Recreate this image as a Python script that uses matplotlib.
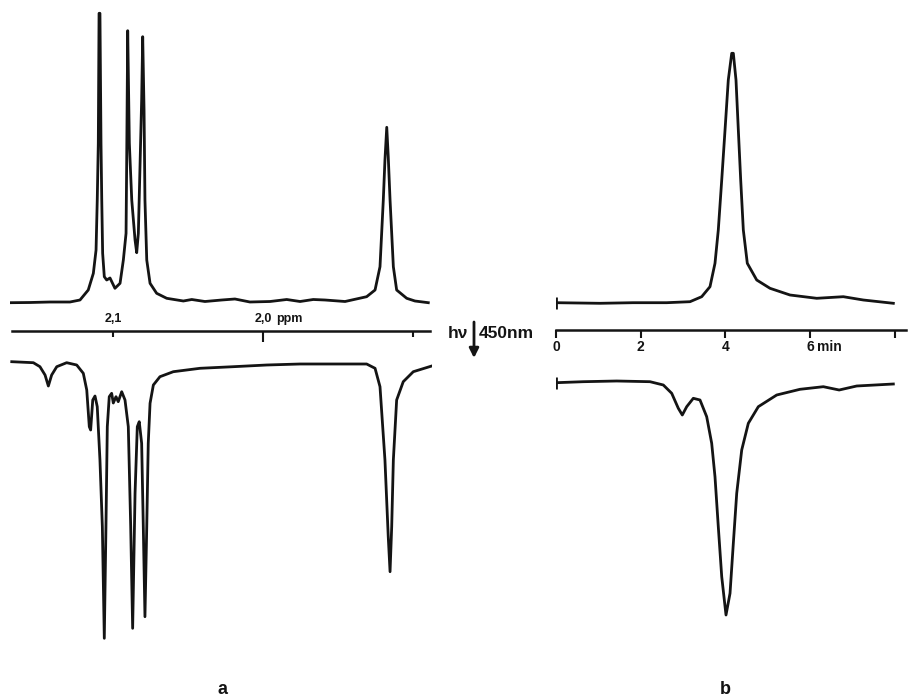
import matplotlib
matplotlib.use("Agg")
import matplotlib.pyplot as plt
from matplotlib.transforms import offset_copy

plt.rcParams['font.family'] = ['Liberation Sans', 'DejaVu Sans']

W, H = 908, 698
INK = '#141414'

# panel a: 1H NMR, chemical shift (ppm) vs. signal (a.u.), before and after irradiation
ppm_before = [2.1687, 2.1553, 2.1420, 2.1287, 2.1220, 2.1165, 2.1131, 2.1113, 2.1105, 2.1098,
              2.1093, 2.1087, 2.1080, 2.1075, 2.1069, 2.1058, 2.1042, 2.1020, 2.0987, 2.0953,
              2.0931, 2.0913, 2.0909, 2.0902, 2.0891, 2.0875, 2.0853, 2.0842, 2.0831, 2.0820,
              2.0809, 2.0802, 2.0793, 2.0787, 2.0775, 2.0753, 2.0709, 2.0642, 2.0531, 2.0475,
              2.0387, 2.0275, 2.0187, 2.0087, 1.9953, 1.9842, 1.9753, 1.9665, 1.9587, 1.9453,
              1.9309, 1.9253, 1.9220, 1.9198, 1.9187, 1.9175, 1.9165, 1.9153, 1.9131, 1.9109,
              1.9042, 1.8987, 1.8898]
sig_before = [-0.7, -0.5, 0, 0, 2, 12, 28.7, 52, 102, 158.7,
              288.7, 288.7, 158.7, 102, 48.7, 25.3, 22, 24, 13.7, 18.7,
              42, 68.7, 135.3, 271.3, 158.7, 102, 62, 49.3, 68.7, 135.3,
              202, 265.3, 192, 102, 42, 18.7, 8.7, 3.7, 1, 2.5,
              0.5, 2, 3, 0, 0.5, 2.5, 0.5, 2.5, 2, 0.5,
              5.3, 12, 35.3, 102, 142, 174.7, 145.3, 102, 35.3, 12,
              3.7, 1, -0.7]

ppm_after = [2.1675, 2.1531, 2.1487, 2.1453, 2.1431, 2.1409, 2.1375, 2.1309, 2.1242, 2.1198,
             2.1175, 2.1158, 2.1149, 2.1135, 2.1120, 2.1105, 2.1087, 2.1071, 2.1058, 2.1047,
             2.1038, 2.1025, 2.1009, 2.0998, 2.0980, 2.0965, 2.0942, 2.0920, 2.0898, 2.0882,
             2.0869, 2.0853, 2.0838, 2.0825, 2.0809, 2.0798, 2.0787, 2.0775, 2.0765, 2.0753,
             2.0731, 2.0687, 2.0598, 2.0420, 2.0198, 1.9975, 1.9753, 1.9531, 1.9309, 1.9253,
             1.9220, 1.9187, 1.9165, 1.9153, 1.9142, 1.9131, 1.9109, 1.9065, 1.8998, 1.8875]
sig_after = [2.3, 1.3, -2.7, -11, -22, -11, -2.7, 1.3, -1, -9.3,
             -26, -62.7, -66, -36, -32, -42.7, -96, -162.7, -274.3, -162.7,
             -62.7, -32.7, -29.3, -39, -32.7, -37.7, -27.7, -36, -62.7, -162.7,
             -264.3, -129.3, -62.7, -57.7, -79.3, -162.7, -252.7, -162.7, -79.3, -39.3,
             -21, -12.7, -7.7, -4.3, -2.7, -1, 0, 0, 0, -4.3,
             -22.7, -96, -172.7, -207.7, -162.7, -96, -36, -17.7, -7.7, -2]

ppm_ticks = [2.1, 2.0, 1.9]
ppm_labels = ['2,1', '2,0', '']

# panel b: signal vs. time (min)
t_before = [0.0, 1.039, 1.825, 2.614, 3.164, 3.440, 3.636, 3.754, 3.832, 3.913,
            3.991, 4.068, 4.149, 4.187, 4.250, 4.305, 4.361, 4.423, 4.517, 4.739,
            5.053, 5.525, 6.156, 6.784, 7.256, 7.965]
b_before = [0.3, -0.3, 0.3, 0.3, 1.3, 6.3, 16.3, 39.7, 73, 123,
            173, 223, 249.7, 249.7, 223, 173, 123, 73, 39.7, 23,
            14.7, 8, 4.7, 6.3, 3, -0.3]

t_after = [0.0, 0.645, 1.433, 2.220, 2.534, 2.732, 2.888, 2.982, 3.086, 3.242,
           3.400, 3.558, 3.676, 3.754, 3.832, 3.913, 4.014, 4.109, 4.187, 4.267,
           4.385, 4.541, 4.777, 5.211, 5.761, 6.312, 6.686, 7.100, 7.965]
b_after = [-0.7, 0.3, 1, 0.3, -3, -11.3, -26.3, -33, -24.7, -16.3,
           -18, -34.7, -61.3, -94.7, -144.7, -194.7, -233, -211.3, -161.3, -111.3,
           -68, -41.3, -24.7, -13, -7.3, -4.7, -8, -4, -2]

min_ticks = [0, 2, 4, 6, 8]
min_labels = ['0', '2', '4', '6', '']


def axes_px(fig, left, top, right, bottom):
    return fig.add_axes([left / W, 1 - bottom / H, (right - left) / W, (bottom - top) / H])


def trace(ax, x, y, xlim, ylim, start_bar=False):
    ax.plot(x, y, color=INK, lw=2.0, solid_joinstyle='round')
    if start_bar:
        ax.plot(x[:1], y[:1], marker='|', ms=9, mew=2, color=INK)
    ax.set_xlim(*xlim)
    ax.set_ylim(*ylim)
    ax.set_axis_off()


fig = plt.figure(figsize=(W / 100, H / 100), dpi=100)

# ---- panel a ----
lx = (2.168667, 1.887333)
trace(axes_px(fig, 10, 5, 432, 310), ppm_before, sig_before, lx, (-8, 297))
trace(axes_px(fig, 10, 355, 432, 645), ppm_after, sig_after, lx, (-281, 9))

sa = axes_px(fig, 12, 331, 430, 345)
sa.set_xlim(2.167333, 1.888667)
sa.patch.set_visible(False)
for s in ['left', 'right', 'bottom']:
    sa.spines[s].set_visible(False)
sa.spines['top'].set_linewidth(1.8)
sa.spines['top'].set_color(INK)
sa.set_yticks([])
sa.xaxis.tick_top()
sa.set_xticks([ppm_ticks[1]])
sa.set_xticklabels([ppm_labels[1]])
sa.set_xticks([ppm_ticks[0], ppm_ticks[2]], minor=True)
sa.set_xticklabels([ppm_labels[0], ppm_labels[2]], minor=True)
sa.tick_params(axis='x', which='both', direction='in', width=1.5, color=INK,
               labelsize=9, pad=4, labelcolor=INK)
sa.tick_params(axis='x', which='major', length=8)
sa.tick_params(axis='x', which='minor', length=4.5)
for lab in sa.get_xticklabels(which='both'):
    lab.set_fontweight('bold')
# unit next to the 2,0 label
sa.text(1.9915, 1.0, 'ppm', ha='left', va='bottom', fontsize=9, fontweight='bold', color=INK,
        transform=offset_copy(sa.get_xaxis_transform(), fig=fig, y=4, units='points'))

# ---- panel b ----
rx = (0, 8.264)
trace(axes_px(fig, 556, 40, 906, 310), t_before, b_before, rx, (-7, 263), start_bar=True)
trace(axes_px(fig, 556, 370, 906, 625), t_after, b_after, rx, (-243, 12), start_bar=True)

sb = axes_px(fig, 556, 316, 906, 330)
sb.set_xlim(*rx)
sb.patch.set_visible(False)
for s in ['left', 'right', 'top']:
    sb.spines[s].set_visible(False)
sb.spines['bottom'].set_linewidth(1.8)
sb.spines['bottom'].set_color(INK)
sb.set_yticks([])
sb.set_xticks(min_ticks)
sb.set_xticklabels(min_labels)
sb.tick_params(axis='x', direction='out', length=5.5, width=1.5, color=INK,
               labelsize=10, pad=2, labelcolor=INK)
for lab in sb.get_xticklabels():
    lab.set_fontweight('bold')
sb.text(6.17, 0.0, 'min', ha='left', va='top', fontsize=10, fontweight='bold', color=INK,
        transform=offset_copy(sb.get_xaxis_transform(), fig=fig, y=-7.5, units='points'))

# irradiation label between panels
fig.text(448 / W, 1 - 338 / H, 'hν', ha='left', va='baseline', fontsize=12.5,
         fontweight='bold', color=INK)
fig.text(479 / W, 1 - 338 / H, '450nm', ha='left', va='baseline', fontsize=12.5,
         fontweight='bold', color=INK)
sb.annotate('', xy=(474, H - 358), xytext=(474, H - 322), xycoords='figure pixels',
            textcoords='figure pixels',
            arrowprops=dict(arrowstyle='-|>', lw=2, color=INK, mutation_scale=14,
                            shrinkA=0, shrinkB=0))

fig.text(222 / W, 1 - 694 / H, 'a', ha='center', va='baseline', fontsize=13,
         fontweight='bold', color=INK)
fig.text(725 / W, 1 - 694 / H, 'b', ha='center', va='baseline', fontsize=13,
         fontweight='bold', color=INK)

fig.savefig('out.png', dpi=100)
